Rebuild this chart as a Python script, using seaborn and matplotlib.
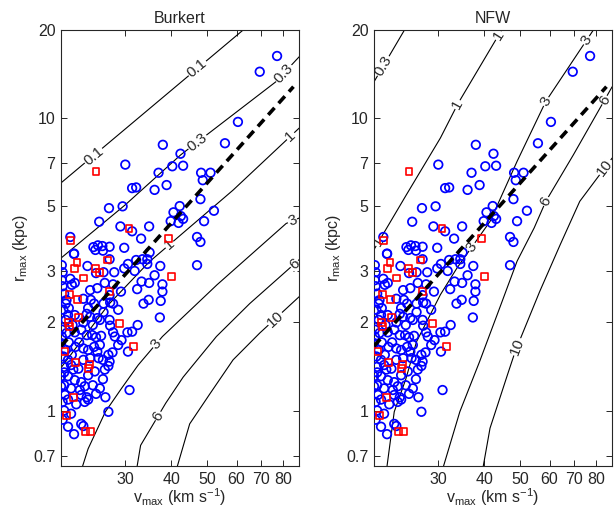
import numpy as np
import matplotlib
matplotlib.use("Agg")
import matplotlib.pyplot as plt
import seaborn as sns

# ── data ─────────────────────────────────────────────────────────────────────
# blue circles (vmax km/s, rmax kpc)
circ_v = [77.2, 69.3, 60.5, 55.8, 37.9, 42.3, 30.0, 40.2, 43.0, 36.9, 48.1, 51.0,
          48.6, 38.8, 31.3, 32.1, 36.0, 47.9, 42.1, 27.1, 29.5, 52.1, 40.5, 42.4,
          43.0, 39.8, 41.8, 49.0, 25.5, 29.1, 34.8, 31.3, 21.3, 33.1, 46.9, 47.9,
          21.8, 24.6, 25.3, 26.0, 27.2, 24.9, 26.1, 29.8, 34.9, 27.2, 34.4, 46.9,
          31.8,
          21.8, 20.2, 20.3, 20.2, 21.3, 20.3, 21.5, 23.7, 25.0, 26.2, 28.0, 29.8,
          30.5, 32.1, 33.4, 34.4, 36.0, 37.3, 21.9, 25.2, 26.4, 27.8, 29.2, 32.3,
          33.2, 34.8, 37.8, 37.8, 20.5, 20.7, 20.4, 21.1, 24.2, 24.7, 26.2, 27.3,
          27.8, 33.6, 34.7, 37.4, 37.2, 23.8, 23.6, 21.0, 21.9, 24.1, 25.2, 25.6,
          27.2, 27.3, 27.8, 28.1, 29.3, 30.4, 31.3, 32.4, 20.2, 20.2, 20.8, 21.9,
          22.8, 23.6, 24.4, 25.0, 25.8, 20.1, 21.1, 22.0, 23.1, 23.8, 24.7, 25.2,
          25.4, 26.1, 27.2, 27.7, 27.0, 30.5, 20.4, 21.0, 20.5, 21.4, 22.4, 23.8,
          24.8, 20.1, 21.0, 21.9, 22.8, 23.3, 26.1, 20.1, 21.4, 22.6, 22.8, 23.6,
          25.0, 26.5, 30.8, 20.6, 21.0, 20.3, 22.1, 23.3, 23.8, 20.5, 21.4, 27.0,
          20.3, 21.0, 21.8, 22.8, 23.1,
          20.7, 21.6, 22.5, 20.7, 21.5, 23.1, 24.1, 20.5, 21.7, 24.5, 25.6, 20.5,
          26.4, 27.0, 28.7, 25.6, 23.1, 24.5, 26.2, 28.7, 23.1, 24.1, 27.2, 20.8]
circ_r = [16.3, 14.4, 9.7, 8.2, 8.1, 7.55, 6.93, 6.84, 6.87, 6.5, 6.5, 6.5,
          6.13, 5.9, 5.76, 5.79, 5.68, 5.28, 5.0, 4.92, 4.99, 4.82, 4.76, 4.62,
          4.52, 4.44, 4.38, 4.44, 4.42, 4.26, 4.26, 4.1, 3.92, 3.87, 3.92, 3.77,
          3.44, 3.62, 3.67, 3.65, 3.63, 3.54, 3.52, 3.6, 3.47, 3.29, 3.29, 3.14,
          3.0,
          3.43, 3.14, 2.97, 2.79, 2.82, 2.66, 2.69, 3.12, 2.95, 2.97, 2.97, 3.06,
          3.17, 3.27, 3.29, 3.17, 2.90, 3.12, 2.73, 2.62, 2.73, 2.70, 2.55, 2.60,
          2.76, 2.73, 2.70, 2.55, 2.51, 2.32, 2.21, 2.24, 2.39, 2.32, 2.32, 2.34,
          2.32, 2.32, 2.39, 2.37, 2.08, 2.24, 2.14, 2.12, 2.12, 2.09, 2.07, 2.04,
          2.04, 1.95, 1.85, 1.79, 1.74, 1.85, 1.86, 1.96, 1.89, 1.79, 1.84, 1.85,
          1.89, 1.81, 1.81, 1.78, 1.80, 1.70, 1.71, 1.65, 1.63, 1.61, 1.65, 1.59,
          1.51, 1.49, 1.47, 1.58, 1.42, 1.59, 1.53, 1.49, 1.41, 1.43, 1.39, 1.32,
          1.36, 1.31, 1.31, 1.27, 1.25, 1.21, 1.28, 1.21, 1.19, 1.175, 1.13, 1.11,
          1.14, 1.11, 1.175, 1.13, 1.09, 1.07, 1.05, 1.07, 1.09, 1.00, 0.975, 0.99,
          0.93, 0.88, 0.83, 0.90, 0.885,
          2.04, 1.96, 1.71, 1.61, 1.55, 1.49, 1.51, 1.35, 1.38, 1.22, 1.19, 1.22,
          1.38, 1.55, 1.675, 1.675, 2.0, 1.96, 2.17, 2.21, 2.41, 2.58, 2.48, 2.385]

# red squares
sq_v = [25.0, 30.7, 39.3, 21.3, 22.2, 21.9, 24.9, 25.5, 26.8, 23.1, 21.2, 22.3,
        27.2, 22.4, 21.1, 21.2, 29.0, 31.6, 20.5, 22.0, 24.0, 23.9, 21.7, 20.8,
        23.4, 24.1, 40.1]
sq_r = [6.57, 4.18, 3.87, 3.81, 3.2, 3.06, 3.06, 2.97, 3.27, 2.84, 2.5, 2.4,
        2.56, 2.08, 2.0, 1.94, 1.98, 1.66, 1.59, 1.46, 1.44, 1.39, 1.11, 0.96,
        0.85, 0.85, 2.87]

# dashed relation
fit_v = [20.1, 85.5]
fit_r = [1.66, 12.8]

# contour lines: label -> (v, r, label positions in v)
burkert = {
    "0.1": ([20.1, 62.5], [6.0, 20.0], [24.6, 47.0]),
    "0.3": ([20.1, 30.0, 42.4, 76.6, 88.6], [3.32, 5.05, 7.49, 13.3, 16.2], [47.0, 80.5]),
    "1":   ([20.1, 27.0, 34.8, 58.7, 88.6], [1.4, 2.3, 3.22, 5.67, 9.24], [39.5, 84.0]),
    "3":   ([23.0, 23.8, 26.5, 29.3, 32.5, 37.8, 53.1, 81.7, 88.6],
            [0.646, 0.74, 0.99, 1.19, 1.43, 1.79, 2.69, 4.36, 4.55], [36.4, 85.0]),
    "6":   ([32.3, 33.0, 38.6, 43.0, 52.9, 65.1, 80.4, 88.6],
            [0.646, 0.76, 1.06, 1.30, 1.79, 2.32, 2.94, 3.28], [36.8, 86.0]),
    "10":  ([41.5, 44.8, 50.8, 58.7, 69.3, 88.6],
            [0.646, 0.90, 1.14, 1.49, 1.84, 2.45], [76.3]),
}
nfw = {
    "0.3": ([20.1, 24.3], [13.3, 20.0], [21.3]),
    "1":   ([20.1, 24.6, 30.4, 33.9, 44.5], [3.55, 5.47, 8.55, 11.2, 20.0], [20.7, 33.8, 43.6]),
    "3":   ([21.8, 22.8, 24.5, 26.2, 30.4, 33.7, 41.4, 49.0, 58.6, 78.8],
            [0.646, 0.99, 1.28, 1.72, 2.49, 3.07, 4.43, 7.11, 11.4, 20.0], [37.0, 58.6, 75.5]),
    "6":   ([31.0, 34.3, 38.8, 44.3, 49.0, 54.5, 58.6, 69.6, 88.6],
            [0.646, 0.99, 1.47, 2.30, 3.24, 4.21, 5.19, 7.49, 12.8], [58.6, 84.5]),
    "10":  ([39.7, 41.4, 46.2, 48.5, 56.4, 64.1, 72.4, 88.6],
            [0.646, 0.87, 1.33, 1.60, 2.55, 3.69, 5.19, 7.3], [49.0, 84.8]),
}

x_ticks = [30, 40, 50, 60, 70, 80]
y_ticks = [0.7, 1, 2, 3, 5, 7, 10, 20]
y_ticklabels = ["0.7", "1", "2", "3", "5", "7", "10", "20"]
XLIM = (20.1, 88.5)
YLIM = (0.646, 20)
FS = 11.5

sns.set_style("ticks", {"xtick.direction": "in", "ytick.direction": "in"})
plt.rcParams["font.family"] = ["Liberation Sans", "DejaVu Sans"]
plt.rcParams["mathtext.fontset"] = "custom"
plt.rcParams["mathtext.rm"] = "Liberation Sans"
plt.rcParams["mathtext.it"] = "Liberation Sans:italic"
plt.rcParams["font.size"] = FS


def label_on(ax, xs, ys, xv, text):
    lx, ly = np.log10(xs), np.log10(ys)
    t = np.log10(xv)
    yv = 10 ** np.interp(t, lx, ly)
    d = 0.01
    p1 = ax.transData.transform((10 ** (t - d), 10 ** np.interp(t - d, lx, ly)))
    p2 = ax.transData.transform((10 ** (t + d), 10 ** np.interp(t + d, lx, ly)))
    ang = np.degrees(np.arctan2(p2[1] - p1[1], p2[0] - p1[0]))
    ax.text(xv, yv, text, rotation=ang, rotation_mode="anchor", ha="center",
            va="center", fontsize=11, zorder=2, clip_on=True,
            bbox=dict(fc="white", ec="none", pad=0.6))


def panel(ax, title, contours):
    ax.set_xscale("log")
    ax.set_yscale("log")
    ax.set_xlim(*XLIM)
    ax.set_ylim(*YLIM)
    for key, (cv, cr, lv) in contours.items():
        ax.plot(cv, cr, color="black", lw=0.8, zorder=1)
    ax.plot(fit_v, fit_r, color="black", lw=2.6, ls=(0, (2.6, 1.7)), zorder=4)
    sns.scatterplot(x=circ_v, y=circ_r, ax=ax, marker="o", s=38,
                    facecolor="none", edgecolor="blue", linewidth=1.25, zorder=3)
    sns.scatterplot(x=sq_v, y=sq_r, ax=ax, marker="s", s=24,
                    facecolor="none", edgecolor="red", linewidth=1.2, zorder=3)
    ax.set_xlim(*XLIM)
    ax.set_ylim(*YLIM)
    for key, (cv, cr, lv) in contours.items():
        for v in lv:
            label_on(ax, cv, cr, v, key)
    ax.minorticks_off()
    ax.set_xticks(x_ticks)
    ax.set_xticklabels([str(t) for t in x_ticks])
    ax.set_yticks(y_ticks)
    ax.set_yticklabels(y_ticklabels)
    ax.minorticks_off()
    ax.tick_params(direction="in", top=True, right=True, length=4.5, width=0.7,
                   labelsize=FS, pad=4)
    for s in ax.spines.values():
        s.set_linewidth(0.8)
    ax.set_title(title, fontsize=FS, pad=5)
    ax.set_xlabel(r"v$_{\mathrm{max}}$ (km s$^{-1}$)", fontsize=FS, labelpad=0)
    ax.set_ylabel(r"r$_{\mathrm{max}}$ (kpc)", fontsize=FS, labelpad=2)


fig = plt.figure(figsize=(6.16, 5.08), dpi=100)
ax1 = fig.add_axes([61 / 616, 42 / 508, 238 / 616, 436 / 508])
ax2 = fig.add_axes([374 / 616, 42 / 508, 238 / 616, 436 / 508])
panel(ax1, "Burkert", burkert)
panel(ax2, "NFW", nfw)

fig.savefig("out.png", dpi=100, facecolor="white")
